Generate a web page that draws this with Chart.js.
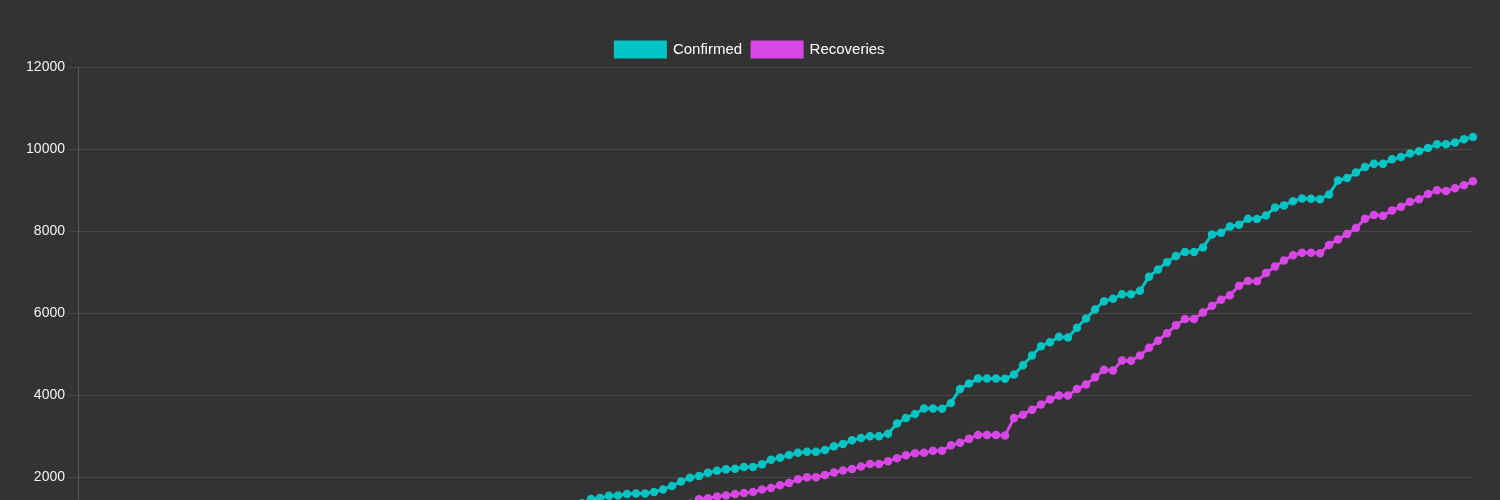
<!DOCTYPE html>
<html>
<head>
<meta charset="utf-8">
<script src="https://cdn.jsdelivr.net/npm/chart.js@4/dist/chart.umd.min.js"></script>
<style>
  html, body { margin: 0; padding: 0; background: #333333; overflow: hidden; }
  #wrap { width: 1500px; height: 600px; }
</style>
</head>
<body>
<div id="wrap"><canvas id="c" width="1500" height="600"></canvas></div>
<script>
const seriesNames = ["Confirmed", "Recoveries"];

const confirmed = [
  0,0,1,1,2,3,5,8,12,18,
  25,34,45,58,72,88,105,124,145,168,
  192,218,245,272,300,330,360,392,425,458,
  492,527,562,598,634,670,707,744,780,816,
  852,888,922,956,990,1022,1054,1085,1115,1144,
  1172,1198,1224,1250,1277,1305,1360,1463,1487,1543,
  1551,1585,1600,1600,1634,1697,1780,1893,1983,2024,
  2105,2154,2186,2203,2244,2244,2308,2422,2471,2537,
  2593,2618,2618,2659,2747,2806,2894,2952,2995,2995,
  3057,3302,3441,3538,3668,3668,3665,3807,4149,4278,
  4400,4400,4400,4395,4498,4725,4962,5189,5287,5419,
  5400,5639,5866,6085,6288,6347,6459,6459,6542,6884,
  7062,7240,7392,7490,7490,7599,7912,7959,8112,8154,
  8300,8295,8376,8576,8625,8728,8791,8789,8777,8889,
  9231,9292,9424,9560,9643,9643,9748,9805,9888,9944,
  10024,10115,10115,10156,10237,10293
];

const recoveries = [
  0,0,0,0,0,1,1,2,3,5,
  7,10,14,19,25,32,40,49,59,70,
  82,95,109,124,140,157,175,194,214,235,
  257,280,304,329,355,382,410,439,469,500,
  532,565,599,634,670,707,745,784,824,865,
  906,947,988,1028,1068,1107,1145,1182,1208,1222,
  1236,1250,1264,1278,1292,1305,1318,1331,1350,1458,
  1482,1524,1551,1585,1612,1634,1695,1734,1797,1853,
  1944,1993,1993,2049,2110,2159,2198,2254,2318,2318,
  2383,2459,2532,2579,2591,2640,2640,2774,2838,2930,
  3025,3025,3025,3015,3436,3521,3643,3766,3888,3985,
  3985,4144,4254,4430,4613,4600,4840,4835,4962,5150,
  5324,5504,5700,5854,5854,6012,6176,6322,6435,6667,
  6781,6776,6974,7136,7282,7409,7470,7470,7458,7661,
  7795,7924,8071,8300,8388,8374,8503,8593,8716,8772,
  8901,8991,8975,9040,9114,9211
];

const yTicks = [0, 2000, 4000, 6000, 8000, 10000, 12000];

// Category labels: one date per data point
const startDate = new Date(Date.UTC(2020, 0, 22));
const labels = confirmed.map((_, i) => {
  const d = new Date(startDate.getTime() + i * 86400000);
  return (d.getUTCMonth() + 1) + "/" + d.getUTCDate() + "/" + String(d.getUTCFullYear()).slice(2);
});

const colors = ["#00c4c4", "#d847e6"];

Chart.defaults.font.family = "'Liberation Sans', Arial, Helvetica, sans-serif";
Chart.defaults.font.size = 14;
Chart.defaults.color = "#f2f2f2";

const mkDs = (label, data, col) => ({
  label: label,
  data: data,
  borderColor: col,
  backgroundColor: col,
  pointBackgroundColor: col,
  pointBorderColor: col,
  pointRadius: 3.5,
  pointBorderWidth: 1.5,
  borderWidth: 3,
  tension: 0,
  fill: false
});

new Chart(document.getElementById("c"), {
  type: "line",
  data: {
    labels: labels,
    datasets: [
      mkDs(seriesNames[0], confirmed, colors[0]),
      mkDs(seriesNames[1], recoveries, colors[1])
    ]
  },
  options: {
    responsive: false,
    animation: false,
    layout: { padding: { top: 32, left: 27, right: 27, bottom: 0 } },
    plugins: {
      legend: {
        position: "top",
        labels: {
          boxWidth: 50,
          boxHeight: 15,
          color: "#ffffff",
          font: { size: 15 },
          padding: 10
        }
      },
      tooltip: { enabled: false }
    },
    scales: {
      x: {
        ticks: { display: false },
        grid: { display: false },
        border: { display: false },
        afterFit: (s) => { s.height = 41; }
      },
      y: {
        min: yTicks[0],
        max: yTicks[yTicks.length - 1],
        afterBuildTicks: (s) => { s.ticks = yTicks.map(v => ({ value: v })); },
        ticks: {
          color: "#f2f2f2",
          padding: 3,
          font: { size: 14 },
          callback: (v) => String(v)
        },
        grid: { color: "rgba(255,255,255,0.1)", tickLength: 10 },
        border: { display: true, color: "rgba(255,255,255,0.2)" },
        afterFit: (s) => { s.width = 51; }
      }
    }
  }
});
</script>
</body>
</html>
